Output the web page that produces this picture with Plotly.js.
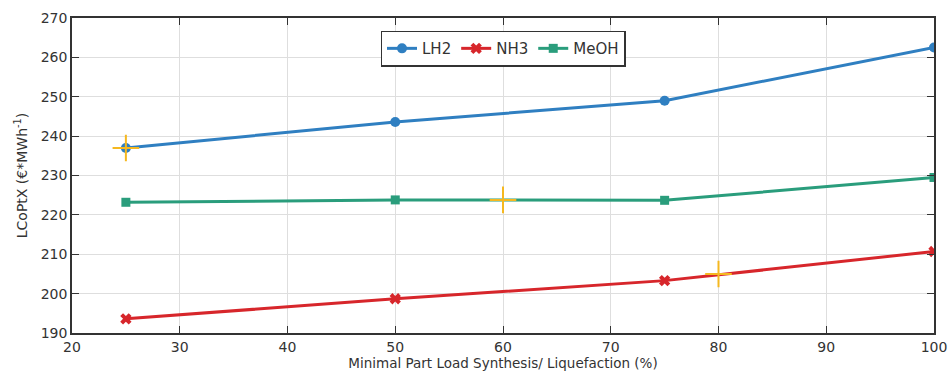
<!DOCTYPE html>
<html><head><meta charset="utf-8">
<script src="https://cdn.plot.ly/plotly-3.0.1.min.js"></script>
<style>body{margin:0;background:#fff}</style>
</head><body><div id="c" style="width:949px;height:382px"></div>
<script>
const partLoad = [25, 50, 75, 100];
const lh2 = [237.0, 243.6, 249.0, 262.5];
const nh3 = [193.6, 198.7, 203.3, 210.7];
const meoh = [223.2, 223.8, 223.7, 229.5];
const optX = [25, 60, 80];
const optY = [237.0, 223.8, 205.0];

const font = {family: 'DejaVu Sans', size: 14, color: '#333'};
const traces = [
  {x: partLoad, y: lh2, name: 'LH2', mode: 'lines+markers', line: {color: '#2f7fc1', width: 3}, marker: {symbol: 'circle', size: 10, color: '#2f7fc1'}},
  {x: partLoad, y: nh3, name: 'NH3', mode: 'lines+markers', line: {color: '#d7262b', width: 3}, marker: {symbol: 'x', size: 10, color: '#d7262b'}},
  {x: partLoad, y: meoh, name: 'MeOH', mode: 'lines+markers', line: {color: '#2a9d7c', width: 3}, marker: {symbol: 'square', size: 9, color: '#2a9d7c'}},
  {x: optX, y: optY, mode: 'markers', showlegend: false, marker: {symbol: 'cross-thin-open', size: 19, color: '#f5b820', line: {color: '#f5b820', width: 2}}}
];
const axisCommon = {showline: true, mirror: 'ticks', linecolor: '#333', linewidth: 1.5, ticks: 'inside', ticklen: 7, tickcolor: '#333', showgrid: true, gridcolor: '#dedede', gridwidth: 1, zeroline: false, tickfont: font};
const layout = {
  width: 949, height: 382,
  margin: {l: 72, r: 15, t: 18, b: 49},
  paper_bgcolor: '#fff', plot_bgcolor: '#fff',
  font: font,
  xaxis: Object.assign({}, axisCommon, {range: [20, 100], dtick: 10, title: {text: 'Minimal Part Load Synthesis/ Liquefaction (%)', font: Object.assign({}, font, {size: 13.5}), standoff: 4}}),
  yaxis: Object.assign({}, axisCommon, {range: [190, 270], dtick: 10, title: {text: 'LCoPtX (€*MWh<sup>-1</sup>)', font: Object.assign({}, font, {size: 14}), standoff: 10}}),
  legend: {orientation: 'h', x: 0.5, xanchor: 'center', y: 0.96, yanchor: 'top', bgcolor: '#fff', bordercolor: '#333', borderwidth: 1.5, font: Object.assign({}, font, {size: 15}), tracegroupgap: 0},
  showlegend: true
};
Plotly.newPlot('c', traces, layout, {displayModeBar: false});
</script></body></html>
